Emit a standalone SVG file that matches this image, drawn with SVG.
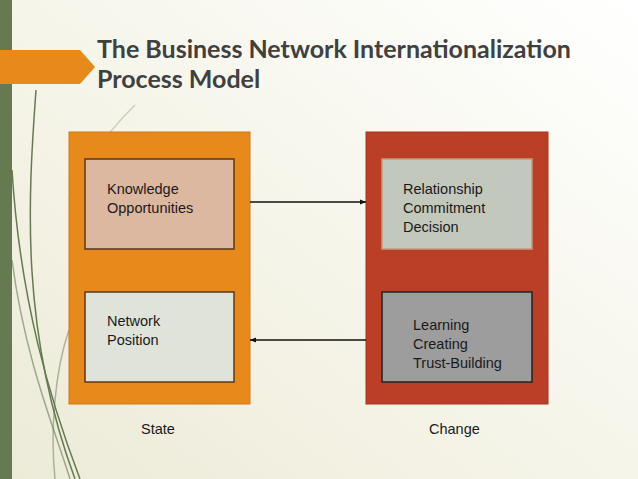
<svg xmlns="http://www.w3.org/2000/svg" width="638" height="479" viewBox="0 0 638 479">
<defs>
<linearGradient id="bg" x1="1" y1="0" x2="0" y2="1">
<stop offset="0" stop-color="#ffffff"/><stop offset="0.5" stop-color="#f6f5ea"/><stop offset="1" stop-color="#ecebd8"/>
</linearGradient>
<marker id="ah" viewBox="0 0 10 10" refX="10" refY="5" markerWidth="6" markerHeight="6" orient="auto-start-reverse" markerUnits="userSpaceOnUse"><path d="M0,1 L10,5 L0,9 z" fill="#111"/></marker>
<style>
.t{font-family:"Liberation Sans",Arial,sans-serif;font-size:14.5px;fill:#1a1a1a}
.title{font-family:Lato,"DejaVu Sans",sans-serif;font-weight:bold;font-size:25px;fill:#404040}
.c{fill:none;stroke:#111;stroke-width:1.5}
.leaf{fill:none;stroke:#667a52;stroke-width:1.5}
</style>
</defs>
<rect width="638" height="479" fill="url(#bg)"/>
<rect x="0" y="0" width="12" height="479" fill="#667a52"/>
<path class="leaf" d="M36,90 C28,200 20,330 75,479"/>
<path class="leaf" d="M12,170 C20,300 50,400 80,479" stroke-width="2"/>
<path class="leaf" d="M12,260 C25,360 55,430 70,479" opacity="0.6"/>
<path class="leaf" d="M69,330 C55,370 50,430 55,479" opacity="0.5"/>
<path class="leaf" d="M135,105 C100,140 80,170 69,200" opacity="0.3"/>
<polygon points="0,50 80,50 95,67 80,84 0,84" fill="#e8891b"/>
<text class="title" x="97" y="58">The Business Network Internationalization</text>
<text class="title" x="97" y="88">Process Model</text>
<g id="state">
<rect x="69" y="132" width="181" height="272" fill="#e8891b" stroke="#d07a18"/>
<text class="t" x="141" y="434">State</text>
</g>
<g id="knowledge"><rect x="85" y="159" width="149" height="90" fill="#dcb8a0" stroke="#5a3a1a" stroke-width="1.5"/>
<text class="t" x="107" y="194">Knowledge</text><text class="t" x="107" y="213">Opportunities</text></g>
<g id="network"><rect x="85" y="292" width="149" height="90" fill="#dfe3da" stroke="#5a3a1a" stroke-width="1.5"/>
<text class="t" x="107" y="326">Network</text><text class="t" x="107" y="345">Position</text></g>
<g id="change">
<rect x="366" y="132" width="182" height="272" fill="#bb3f27" stroke="#a83520"/>
<text class="t" x="429" y="434">Change</text>
</g>
<g id="relationship"><rect x="382" y="159" width="150" height="90" fill="#c3c8bd" stroke="#c49a7a" stroke-width="1.5"/>
<text class="t" x="403" y="194">Relationship</text><text class="t" x="403" y="213">Commitment</text><text class="t" x="403" y="232">Decision</text></g>
<g id="learning"><rect x="382" y="292" width="150" height="90" fill="#9d9d9d" stroke="#222" stroke-width="1.5"/>
<text class="t" x="413" y="330">Learning</text><text class="t" x="413" y="349">Creating</text><text class="t" x="413" y="368">Trust-Building</text></g>
<g id="connectors">
<line class="c" x1="250" y1="202" x2="366" y2="202" marker-end="url(#ah)"/>
<line class="c" x1="366" y1="340" x2="250" y2="340" marker-end="url(#ah)"/>
</g>
</svg>
